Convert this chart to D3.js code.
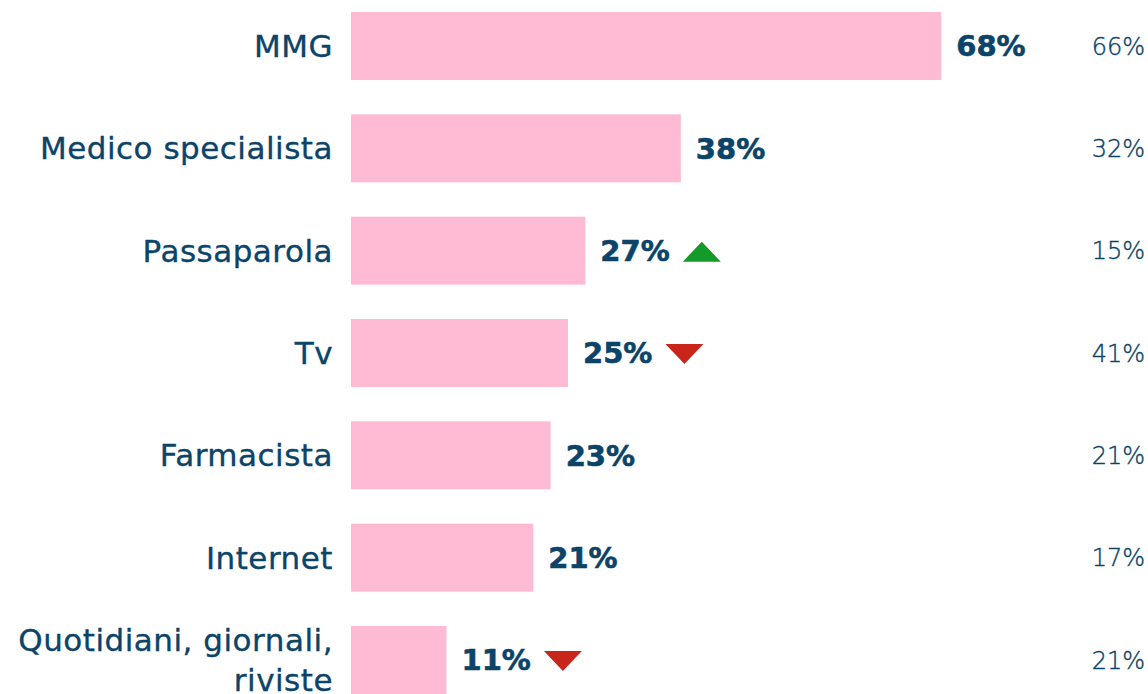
<!DOCTYPE html>
<html>
<head>
<meta charset="utf-8">
<script src="https://cdn.jsdelivr.net/npm/d3@7"></script>
<style>
  body { margin: 0; background: #fff; }
  svg { display: block; }
</style>
</head>
<body>
<div id="chart"></div>
<script>
  // Data
  const categories = ["MMG", "Medico specialista", "Passaparola", "Tv", "Farmacista", "Internet", "Quotidiani, giornali, riviste"];
  const labelLines = [["MMG"], ["Medico specialista"], ["Passaparola"], ["Tv"], ["Farmacista"], ["Internet"], ["Quotidiani, giornali,", "riviste"]];
  const values = [68, 38, 27, 25, 23, 21, 11];
  const previous = [66, 32, 15, 41, 21, 17, 21];
  const trend = [null, null, "up", "down", null, null, "down"];

  const width = 1148, height = 694;
  const textColor = "#0b4468";
  const barColor = "#ffbbd4";
  const upColor = "#139a2a";
  const downColor = "#c8251b";
  const fontFamily = "'DejaVu Sans', sans-serif";

  const svg = d3.select("#chart").append("svg")
    .attr("width", width)
    .attr("height", height);

  const x = d3.scaleLinear()
    .domain([0, 100])
    .range([351, 351 + 868]);

  const y = d3.scaleBand()
    .domain(categories)
    .range([12, 694])
    .paddingInner(0.3355)
    .paddingOuter(0);

  const rows = categories.map((c, i) => ({
    cat: c, lines: labelLines[i], value: values[i], prev: previous[i], trend: trend[i]
  }));

  // bars
  svg.selectAll("rect.bar")
    .data(rows)
    .enter()
    .append("rect")
    .attr("class", "bar")
    .attr("x", x(0))
    .attr("y", d => y(d.cat))
    .attr("width", d => x(d.value) - x(0))
    .attr("height", y.bandwidth())
    .attr("fill", barColor);

  // category labels
  const labels = svg.selectAll("text.cat")
    .data(rows)
    .enter()
    .append("text")
    .attr("class", "cat")
    .attr("text-anchor", "end")
    .attr("fill", textColor)
    .attr("stroke", textColor)
    .attr("stroke-width", 0.35)
    .style("font-family", fontFamily)
    .style("font-size", "31px")
    .style("letter-spacing", "0.5px");

  labels.each(function (d) {
    const cy = y(d.cat) + y.bandwidth() / 2;
    const lh = 40;
    const top = cy - (d.lines.length - 1) * lh / 2;
    d3.select(this).selectAll("tspan")
      .data(d.lines)
      .enter()
      .append("tspan")
      .attr("x", 333)
      .attr("y", (l, j) => top + j * lh)
      .attr("dy", "0.35em")
      .text(l => l);
  });

  // value labels (bold)
  const valueLabels = svg.selectAll("text.val")
    .data(rows)
    .enter()
    .append("text")
    .attr("class", "val")
    .attr("x", d => x(d.value) + 15)
    .attr("y", d => y(d.cat) + y.bandwidth() / 2)
    .attr("dy", "0.36em")
    .attr("fill", textColor)
    .attr("stroke", textColor)
    .attr("stroke-width", 0.6)
    .style("font-family", fontFamily)
    .style("font-size", "29px")
    .style("font-weight", 700)
    .text(d => d.value + "%");

  // trend triangles
  valueLabels.each(function (d) {
    if (!d.trend) return;
    const w = this.getComputedTextLength();
    const tx = x(d.value) + 15 + w + 13;
    const cy = y(d.cat) + y.bandwidth() / 2 + 1;
    const tw = 38, th = 20;
    const p = d.trend === "up"
      ? `M${tx},${cy + th / 2} L${tx + tw / 2},${cy - th / 2} L${tx + tw},${cy + th / 2}Z`
      : `M${tx},${cy - th / 2} L${tx + tw / 2},${cy + th / 2} L${tx + tw},${cy - th / 2}Z`;
    svg.append("path")
      .attr("d", p)
      .attr("fill", d.trend === "up" ? upColor : downColor);
  });

  // previous-wave values, right column
  svg.selectAll("text.prev")
    .data(rows)
    .enter()
    .append("text")
    .attr("class", "prev")
    .attr("x", 1145)
    .attr("y", d => y(d.cat) + y.bandwidth() / 2)
    .attr("dy", "0.36em")
    .attr("text-anchor", "end")
    .attr("fill", textColor)
    .attr("stroke", textColor)
    .attr("stroke-width", 0.4)
    .style("font-family", fontFamily)
    .style("font-size", "24px")
    .style("font-weight", 200)
    .text(d => d.prev + "%");
</script>
</body>
</html>
